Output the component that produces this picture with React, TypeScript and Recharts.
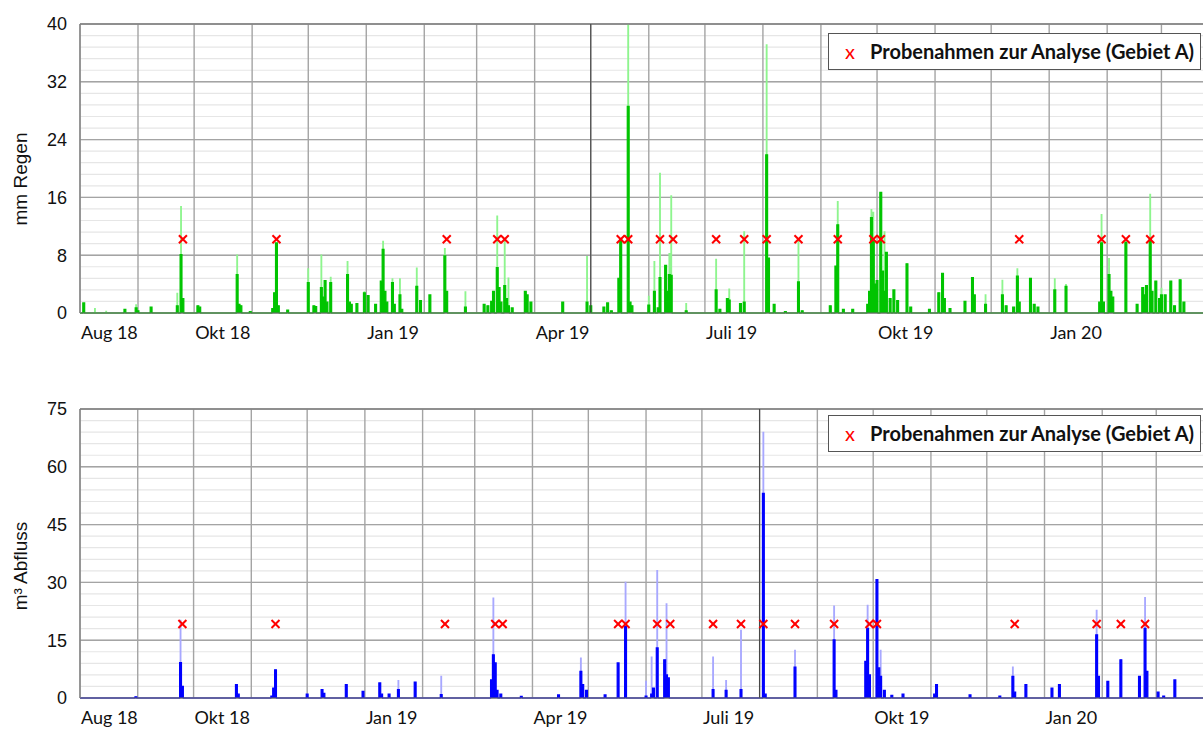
import React from "react";
import {
  Area,
  CartesianGrid,
  ComposedChart,
  ReferenceLine,
  Scatter,
  XAxis,
  YAxis,
} from "recharts";

// day 0 = 1 Aug 2018, one value per day
const START = Date.UTC(2018, 7, 1);
const LAST_DAY = 606;
const X_MAX = 620;

const X_LABEL_MONTHS = ["2018-08", "2018-10", "2019-01", "2019-04", "2019-07", "2019-10", "2020-01"];
const X_LABELS = ["Aug 18", "Okt 18", "Jan 19", "Apr 19", "Juli 19", "Okt 19", "Jan 20"];

const RAIN_TICKS = [0, 8, 16, 24, 32, 40];
const FLOW_TICKS = [0, 15, 30, 45, 60, 75];

// Probenahmen (sample dates)
const SAMPLE_DATES = [
  "2018-09-25", "2018-11-14", "2019-02-13", "2019-03-12", "2019-03-16",
  "2019-05-17", "2019-05-21", "2019-06-07", "2019-06-14", "2019-07-07",
  "2019-07-22", "2019-08-03", "2019-08-20", "2019-09-10", "2019-09-29",
  "2019-10-03", "2019-12-16", "2020-01-29", "2020-02-11", "2020-02-24",
];

// [day, mm] daily rain
const RAIN = [
  [2, 1.4], [24, 0.5], [30, 0.7], [31, 0.3], [38, 0.8], [52, 1.0], [54, 8.1], [55, 2.0], [63, 1.0], [64, 0.8],
  [84, 5.3], [85, 1.2], [86, 1.0], [91, 0.2], [103, 0.6], [104, 2.8], [105, 9.7], [106, 1.0], [111, 0.4],
  [122, 4.2], [125, 1.0], [126, 0.9], [129, 3.5], [130, 2.2], [131, 4.5], [132, 1.5], [134, 4.2],
  [143, 5.3], [144, 1.5], [145, 1.2], [148, 1.3], [152, 2.8], [154, 2.4], [158, 1.2], [161, 4.4], [162, 8.8],
  [163, 3.0], [164, 1.5], [167, 4.2], [168, 1.2], [171, 2.5], [172, 0.5], [180, 3.7], [182, 1.7], [187, 2.5],
  [195, 7.9], [196, 3.0], [206, 0.8], [216, 1.2], [218, 1.0], [220, 1.6], [221, 3.0], [223, 6.3], [224, 3.5],
  [225, 1.5], [227, 3.8], [228, 2.0], [229, 1.0], [231, 0.7], [238, 3.0], [239, 2.5], [241, 1.5], [258, 1.5],
  [271, 1.5], [273, 1.0], [280, 0.8], [282, 1.4], [284, 0.3], [288, 4.8], [289, 10.2], [293, 28.6], [294, 1.5],
  [295, 1.0], [304, 1.1], [307, 3.0], [309, 0.7], [310, 4.9], [313, 6.6], [314, 3.0], [315, 5.3], [316, 5.2],
  [324, 0.3], [340, 3.2], [342, 0.5], [346, 2.0], [347, 1.8], [353, 1.3], [355, 1.5], [367, 21.9], [368, 7.6],
  [371, 1.2], [377, 0.2], [384, 4.3], [386, 0.3], [401, 1.0], [404, 6.5], [405, 12.2], [408, 0.5], [413, 0.5],
  [421, 1.2], [422, 3.0], [423, 13.2], [424, 9.9], [425, 4.0], [426, 4.5], [428, 16.7], [429, 5.8], [430, 3.0],
  [431, 8.4], [433, 2.0], [435, 3.2], [437, 1.7], [442, 6.8], [444, 0.8], [454, 0.5], [459, 2.8], [461, 5.5],
  [462, 2.0], [465, 0.6], [473, 1.6], [477, 4.9], [478, 2.5], [484, 1.2], [493, 2.5], [495, 1.0], [499, 0.8],
  [501, 5.1], [502, 1.5], [508, 4.8], [510, 1.2], [512, 0.8], [521, 3.2], [527, 3.7], [545, 1.5], [546, 9.7],
  [547, 1.5], [550, 5.3], [551, 3.0], [552, 2.2], [559, 9.8], [565, 1.2], [568, 3.5], [569, 2.5], [570, 3.8],
  [572, 10.2], [573, 3.0], [575, 4.4], [577, 2.0], [578, 2.5], [580, 2.5], [583, 4.4], [585, 1.0], [588, 4.6],
  [590, 1.5],
];

// [day, mm] short-term peaks (light green)
const RAIN_PEAK = [
  [8, 0.7], [14, 0.3], [30, 1.2], [52, 2.8], [54, 14.8], [84, 8.1], [122, 6.2], [129, 8.1], [134, 5.0],
  [143, 7.2], [152, 3.0], [162, 10.0], [167, 4.8], [171, 4.8], [180, 6.3], [195, 9.0], [206, 3.0], [223, 13.5],
  [227, 10.4], [229, 4.9], [271, 7.9], [293, 40], [304, 2.4], [307, 7.2], [310, 19.4], [315, 8.3], [316, 16.3],
  [324, 1.4], [340, 7.5], [347, 3.4], [355, 11.3], [367, 37.2], [384, 10.2], [405, 15.5], [423, 14.4],
  [424, 14.0], [428, 16.7], [430, 11.3], [484, 2.6], [493, 4.6], [501, 6.2], [521, 4.8], [527, 4.0],
  [546, 13.7], [550, 7.6], [572, 16.5], [578, 3.5],
];

// [day, m³] daily discharge
const FLOW = [
  [30, 0.3], [54, 9.2], [55, 3.0], [84, 3.5], [85, 1.0], [103, 0.5], [104, 2.6], [105, 7.3], [122, 1.0],
  [130, 2.2], [131, 1.2], [143, 3.5], [152, 1.7], [161, 3.9], [162, 1.0], [166, 1.0], [171, 2.2], [180, 4.1],
  [194, 0.9], [221, 4.7], [222, 11.2], [223, 9.1], [224, 2.0], [226, 1.0], [237, 0.4], [257, 0.8], [269, 6.9],
  [270, 3.5], [272, 2.0], [282, 0.8], [289, 9.1], [293, 18.6], [304, 0.5], [307, 1.0], [308, 2.6], [310, 13.0],
  [314, 9.9], [315, 6.0], [316, 5.2], [340, 2.2], [347, 2.0], [355, 2.2], [367, 53.1], [368, 1.0], [384, 8.0],
  [405, 15.1], [406, 2.0], [422, 9.5], [423, 18.1], [424, 6.0], [428, 30.7], [429, 7.8], [430, 5.6], [432, 2.0],
  [436, 0.7], [442, 1.0], [459, 1.0], [460, 3.5], [478, 0.8], [494, 0.5], [501, 5.6], [502, 1.5], [508, 3.5],
  [522, 2.6], [526, 3.5], [546, 16.4], [547, 5.6], [552, 4.3], [559, 9.9], [569, 5.6], [572, 18.1], [573, 6.9],
  [579, 1.5], [582, 0.5], [588, 4.7],
];

// [day, m³] short-term peaks (light blue)
const FLOW_PEAK = [
  [54, 20.3], [171, 4.7], [194, 5.8], [222, 26.1], [269, 10.5], [293, 30.2], [304, 4.5], [307, 10.8],
  [310, 33.2], [315, 24.6], [340, 10.8], [347, 4.7], [355, 17.7], [367, 69.1], [384, 12.5], [405, 24.0],
  [423, 24.2], [430, 12.5], [501, 8.2], [546, 22.9], [572, 26.2],
];

const dayOf = (iso: string) => {
  const [y, m, d] = iso.split("-").map(Number);
  return Math.round((Date.UTC(y, m - 1, d || 1) - START) / 86400000);
};

const monthDays: number[] = [];
for (let i = 0; i < 21; i++) monthDays.push(Math.round((Date.UTC(2018, 7 + i, 1) - START) / 86400000));

const labelDays = X_LABEL_MONTHS.map(dayOf);
const labelOf: Record<number, string> = {};
labelDays.forEach((d, i) => (labelOf[d] = X_LABELS[i]));

function buildRows(events: number[][], peaks: number[][]) {
  const base = new Map(events.map(([d, v]) => [d, v]));
  const top = new Map(peaks.map(([d, v]) => [d, v]));
  const rows = [];
  for (let d = 0; d <= LAST_DAY; d++) {
    const v = base.get(d) ?? 0;
    rows.push({ day: d, value: v, peak: Math.max(v, top.get(d) ?? v) });
  }
  return rows;
}

const rainRows = buildRows(RAIN, RAIN_PEAK);
const flowRows = buildRows(FLOW, FLOW_PEAK);

const Cross = (props: any) => {
  const { cx, cy } = props;
  const s = 4;
  return (
    <g stroke="#ff0000" strokeWidth={2}>
      <line x1={cx - s} y1={cy - s} x2={cx + s} y2={cy + s} />
      <line x1={cx - s} y1={cy + s} x2={cx + s} y2={cy - s} />
    </g>
  );
};

const XTick = (props: any) => {
  const { x, y, payload } = props;
  return (
    <text x={x + 1} y={y} dy="0.71em" textAnchor="start" fontSize={18} fill="#111" fontFamily="Lato, 'Open Sans', sans-serif">
      {labelOf[payload.value]}
    </text>
  );
};

function Panel(props: {
  rows: any[];
  yMax: number;
  yTicks: number[];
  minorStep: number;
  color: string;
  peakColor: string;
  markY: number;
  refDay: number;
  width: number;
}) {
  const { rows, yMax, yTicks, minorStep, color, peakColor, markY, refDay, width } = props;
  const minor: number[] = [];
  for (let v = minorStep; v < yMax; v += minorStep) minor.push(+v.toFixed(2));
  const marks = SAMPLE_DATES.map((s) => ({ day: dayOf(s), mark: markY }));
  return (
    <ComposedChart width={width} height={358} data={rows} margin={{ top: 24, right: 0, left: 0, bottom: 0 }}>
      <CartesianGrid horizontalValues={minor} vertical={false} stroke="#e6e6e6" strokeWidth={1.2} />
      <CartesianGrid horizontalValues={yTicks} verticalValues={monthDays} stroke="#a4a4a4" strokeWidth={1.4} />
      <XAxis
        type="number"
        dataKey="day"
        domain={[0, X_MAX]}
        ticks={labelDays}
        interval={0}
        tick={<XTick />}
        tickLine={false}
        tickSize={6}
        tickMargin={7}
        axisLine={{ stroke: "#666" }}
        height={45}
        allowDataOverflow
      />
      <YAxis
        type="number"
        domain={[0, yMax]}
        ticks={yTicks}
        interval={0}
        width={80}
        tickLine={false}
        tickSize={6}
        tickMargin={7}
        axisLine={{ stroke: "#808080", strokeWidth: 1.3 }}
        tick={{ fontSize: 18, fill: "#111", fontFamily: "'Liberation Sans', Arial, sans-serif" }}
      />
      <ReferenceLine y={yMax} stroke="#808080" strokeWidth={1.3} />
      <ReferenceLine x={refDay} stroke="#3a3a3a" strokeWidth={1} />
      <Area dataKey="peak" type="step" stroke="none" fill={peakColor} fillOpacity={1} dot={false} isAnimationActive={false} />
      <Area dataKey="value" type="step" stroke={color} strokeWidth={1.2} fill={color} fillOpacity={1} dot={false} isAnimationActive={false} />
      <Scatter data={marks} dataKey="mark" shape={<Cross />} isAnimationActive={false} />
    </ComposedChart>
  );
}

const legendBox = (top: number) => (
  <div
    style={{
      position: "absolute",
      left: 828,
      top,
      width: 371,
      height: 35,
      border: "1px solid #555",
      background: "#fff",
      fontFamily: "Lato, 'Open Sans', sans-serif",
      fontSize: 20,
      fontWeight: 700,
      color: "#111",
      lineHeight: "35px",
      whiteSpace: "nowrap",
    }}
  >
    <span style={{ position: "absolute", left: 16, color: "#ff0000", fontWeight: 400 }}>x</span>
    <span style={{ position: "absolute", left: 41 }}>Probenahmen zur Analyse (Gebiet A)</span>
  </div>
);

export default function App() {
  return (
    <div style={{ position: "absolute", left: 0, top: 0, width: 1203, height: 729, overflow: "hidden", background: "#fff" }}>
      <div style={{ position: "absolute", left: 0, top: 0 }}>
        <Panel rows={rainRows} yMax={40} yTicks={RAIN_TICKS} minorStep={1.6} color="#00c400" peakColor="#8ef58e" markY={10.2} refDay={dayOf("2019-05-01")} width={80 + 1.871 * X_MAX} />
      </div>
      <div style={{ position: "absolute", left: 0, top: 385 }}>
        <Panel rows={flowRows} yMax={75} yTicks={FLOW_TICKS} minorStep={3} color="#0000ff" peakColor="#a8a8ff" markY={19.2} refDay={dayOf("2019-08-01")} width={80 + 1.862 * X_MAX} />
      </div>
      <svg width={60} height={729} style={{ position: "absolute", left: 0, top: 0 }}>
        <text transform="translate(27,179) rotate(-90)" textAnchor="middle" fontSize={19} fill="#111" fontFamily="'Liberation Sans', Arial, sans-serif">
          mm Regen
        </text>
        <text transform="translate(27,566) rotate(-90)" textAnchor="middle" fontSize={19} fill="#111" fontFamily="'Liberation Sans', Arial, sans-serif">
          m³ Abfluss
        </text>
      </svg>
      {legendBox(33)}
      {legendBox(415)}
    </div>
  );
}
